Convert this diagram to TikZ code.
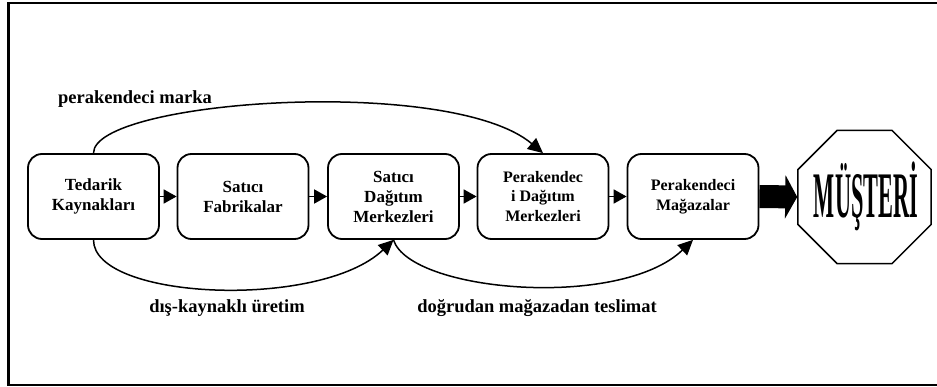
\documentclass[tikz,border=0pt]{standalone}
\usepackage{fontspec}
\setmainfont{Liberation Serif}
\usetikzlibrary{arrows.meta,shapes.geometric}
\begin{document}
\begin{tikzpicture}[x=1pt,y=-1pt,
  box/.style={draw, line width=1.8pt, rounded corners=14pt, minimum width=131pt, minimum height=85pt, align=center, inner sep=0pt, font=\fontsize{17}{20}\selectfont\bfseries},
  boxs/.style={box, font=\fontsize{16}{19.5}\selectfont\bfseries},
  lbl/.style={font=\fontsize{18.5}{22}\selectfont\bfseries},
  link/.style={line width=1.8pt, -{Triangle[length=13pt,width=14pt]}},
  curvearrow/.style={line width=1.5pt, -{Triangle[length=15pt,width=14pt]}}]
\useasboundingbox (0,0) rectangle (937,387);
\draw[line width=2.6pt] (937,3) -- (8.7,3) -- (8.7,385) -- (937,385);

\node[box] (b1) at (93.5,196.5) {Tedarik\\Kaynakları};
\node[box] (b2) at (243,196.5) {Satıcı\\Fabrikalar};
\node[box] (b3) at (393.5,196.5) {Satıcı\\Dağıtım\\Merkezleri};
\node[boxs] (b4) at (543,196.5) {Perakendec\\i Dağıtım\\Merkezleri};
\node[boxs] (b5) at (693,196.5) {Perakendeci\\Mağazalar};

\node[regular polygon, regular polygon sides=8, draw, line width=1.5pt, minimum size=144pt, inner sep=0pt] (oct) at (864.5,197) {};
\node[anchor=base, inner sep=0pt, font=\fontsize{20}{24}\selectfont\bfseries, xscale=1.115, yscale=3.25] (mus) at (866,218) {MÜŞTERİ};

\draw[link] (b1) -- (b2);
\draw[link] (b2) -- (b3);
\draw[link] (b3) -- (b4);
\draw[link] (b4) -- (b5);
\draw[line width=23pt, -{Triangle[length=12pt,width=43pt]}] (b5.east) -- (oct.west);

\draw[curvearrow] (b1.north) .. controls (93.5,100) and (450,75) .. (b4.north);
\draw[curvearrow] (b1.south) .. controls (93.5,300) and (320,310) .. (b3.south);
\draw[curvearrow] (b3.south) .. controls (410,292) and (620,310) .. (b5.south);

\node[lbl] (l1) at (135,99) {perakendeci marka};
\node[lbl] (l2) at (227,308) {dış-kaynaklı üretim};
\node[lbl] (l3) at (537,308) {doğrudan mağazadan teslimat};
\end{tikzpicture}
\end{document}
